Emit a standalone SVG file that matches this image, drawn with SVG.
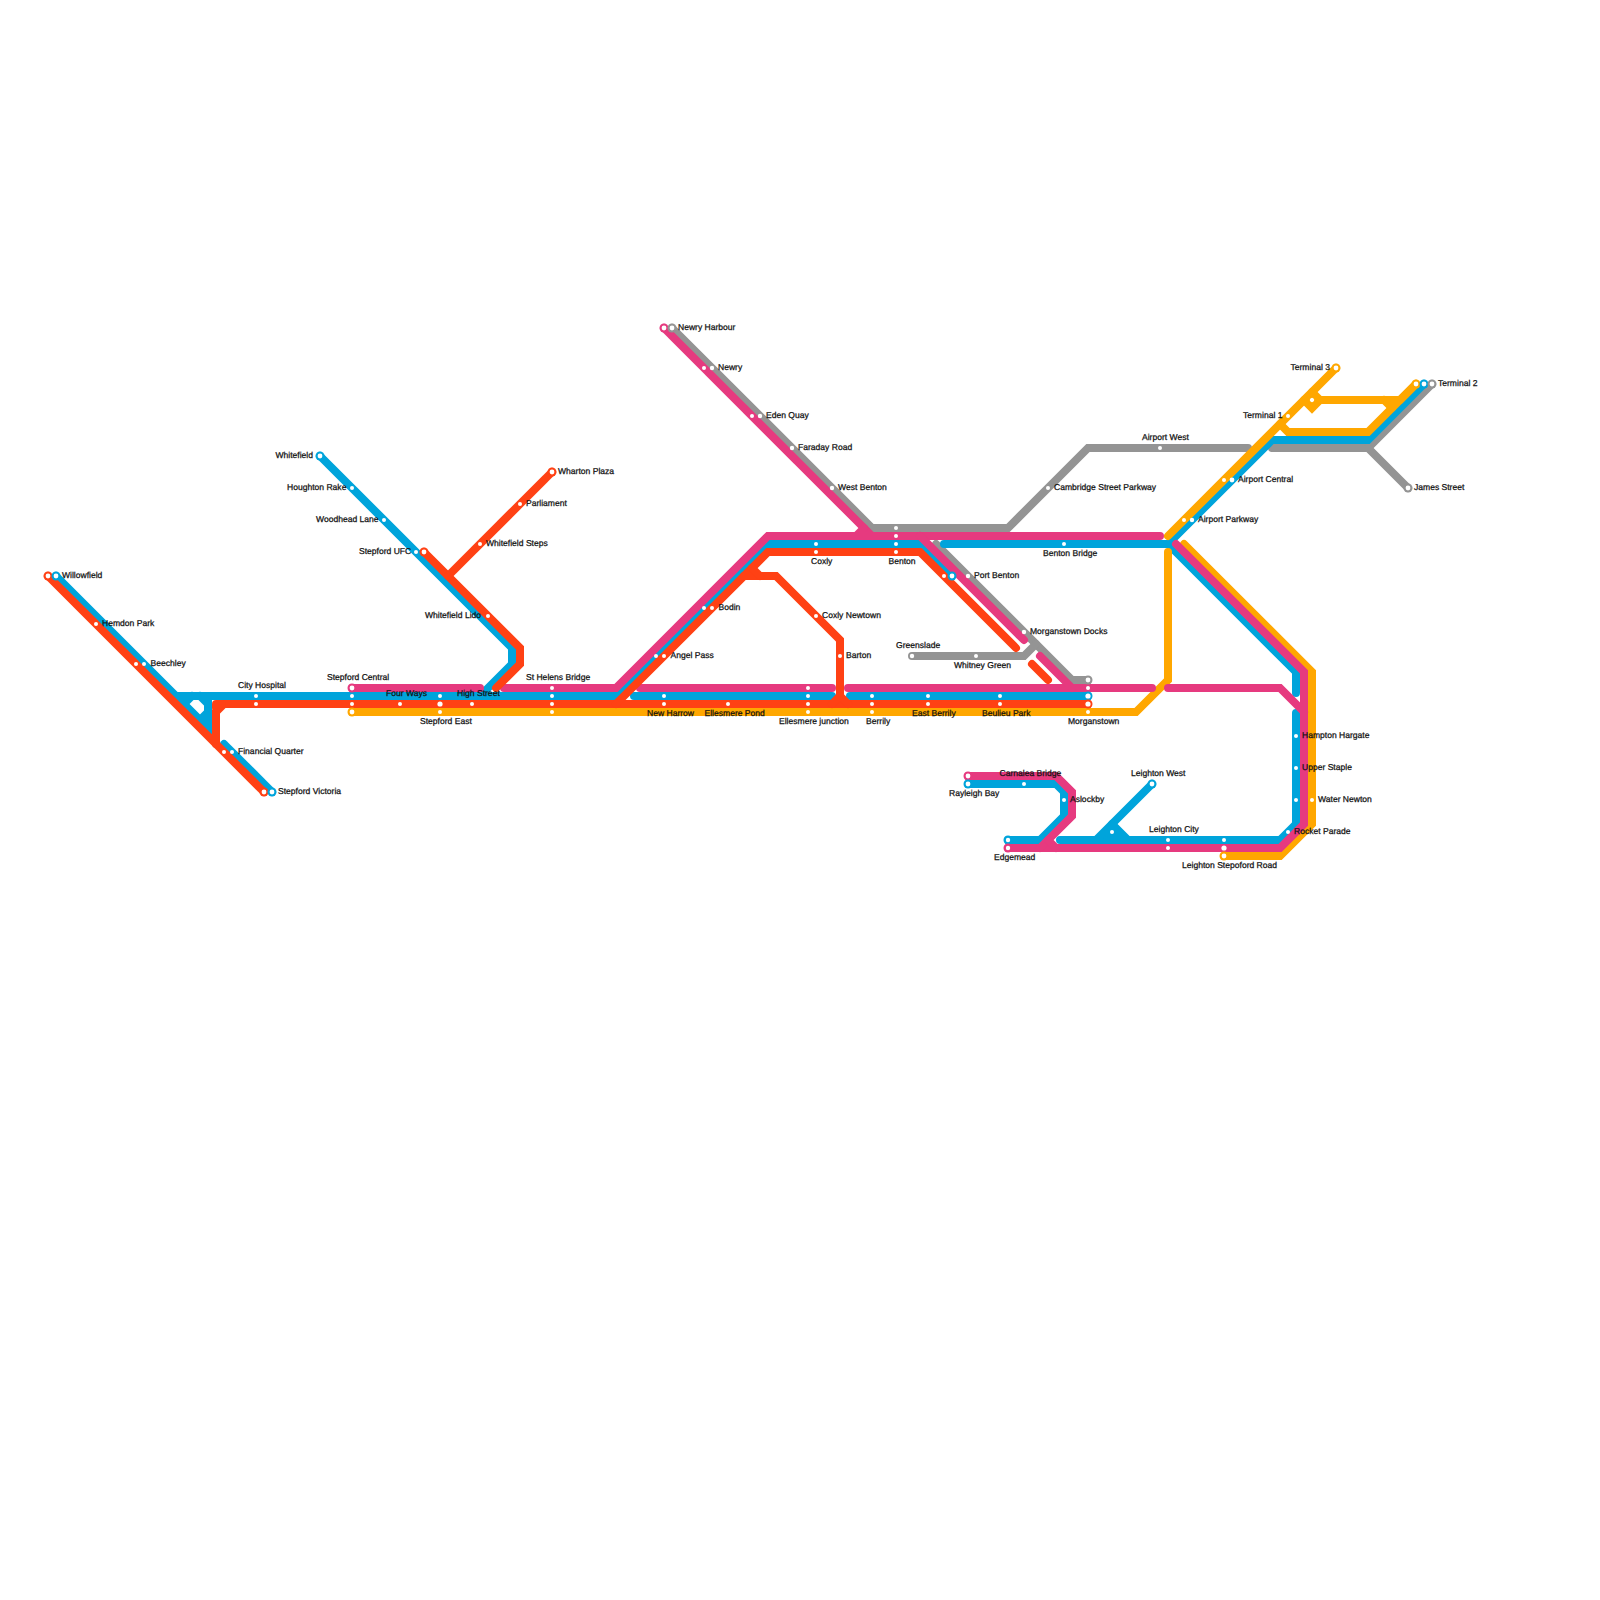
<svg xmlns="http://www.w3.org/2000/svg" width="1600" height="1600" viewBox="0 0 1600 1600">
<style>
.c path{fill:none;stroke-width:8;stroke-linecap:round;stroke-linejoin:miter}
.grey path{stroke:#949494}.blue path{stroke:#00a4db}.orange path{stroke:#ffa700}.pink path{stroke:#e63a7f}.red path{stroke:#ff4114}
.d{fill:#fff}
.rg{fill:#949494}.rb{fill:#00a4db}.ro{fill:#ffa700}.rp{fill:#e63a7f}.rr{fill:#ff4114}
text{font-family:"Liberation Sans",Arial,sans-serif;font-size:8.55px;fill:#111;stroke:#111;stroke-width:.25px;text-rendering:geometricPrecision}
</style>
<rect width="1600" height="1600" fill="#fff"/>
<g id="connectors" class="c">
<g class="grey">
<path d="M672 328L872 528H1008L1088 448H1248"/>
<path d="M1272 448H1368L1432 384"/>
<path d="M1368 448L1408 488"/>
<path d="M936 544L1072 680H1088"/>
<path d="M912 656H1024L1036 644"/>
</g>
<g class="blue">
<path d="M56 576L208 728V696"/>
<path d="M200 696L208 704"/>
<path d="M208 712L200 720"/>
<path d="M184 704L192 696"/>
<path d="M224 744L272 792"/>
<path d="M176 696H616L768 544H920L952 576"/>
<path d="M634 696H832"/>
<path d="M850 696H1088"/>
<path d="M320 456L512 648V664L480 696"/>
<path d="M944 544H1168L1296 672V693"/>
<path d="M1168 544L1272 440H1368L1424 384"/>
<path d="M1296 713V824L1280 840H1060"/>
<path d="M968 784H1056L1064 792V816L1040 840H1008"/>
<path d="M1152 784L1096 840"/>
<path d="M1112 824L1128 840"/>
<path d="M1108 833H1118"/>
</g>
<g class="orange">
<path d="M352 712H1136L1168 680V552"/>
<path d="M1168 536L1336 368"/>
<path d="M1184 544L1312 672V824L1280 856H1224"/>
<path d="M1304 400L1312 408L1320 400H1400L1416 384"/>
<path d="M1312 392L1320 400"/>
<path d="M1384 400L1392 408"/>
<path d="M1280 424L1288 432H1368L1416 384"/>
</g>
<g class="pink">
<path d="M664 328L872 536"/>
<path d="M856 536L864 528"/>
<path d="M352 688H480"/>
<path d="M504 688H616L768 536H1160"/>
<path d="M640 688H832"/>
<path d="M848 688H1152"/>
<path d="M1168 688H1280L1304 712"/>
<path d="M920 536L1024 640"/>
<path d="M1040 656L1072 688"/>
<path d="M1176 544L1304 672V824L1280 848H1008"/>
<path d="M968 776H1056L1072 792V816L1040 848"/>
<path d="M1048 840L1056 848"/>
</g>
<g class="red">
<path d="M48 576L264 792"/>
<path d="M216 744V712L224 704H1088"/>
<path d="M216 708V704H222" style="stroke-linejoin:round"/>
<path d="M424 552L520 648V664L496 688"/>
<path d="M552 472L448 576"/>
<path d="M616 704L768 552H920L1016 648"/>
<path d="M1032 664L1048 680"/>
<path d="M744 576H776L840 640V696"/>
<path d="M752 568L760 576"/>
<path d="M832 704L840 696L848 704"/>
</g>
</g>
<g id="stations">
<g id="willowfield"><circle class="rr" cx="48" cy="576" r="4.5"/><circle class="rb" cx="56" cy="576" r="4.5"/><circle class="d" cx="48" cy="576" r="2.4"/><circle class="d" cx="56" cy="576" r="2.4"/><text x="62" y="578">Willowfield</text></g>
<g id="hemdon-park"><circle class="d" cx="96" cy="624" r="2"/><text x="102" y="626">Hemdon Park</text></g>
<g id="beechley"><circle class="d" cx="136" cy="664" r="2"/><circle class="d" cx="144" cy="664" r="2"/><text x="150.5" y="666">Beechley</text></g>
<g id="city-hospital"><circle class="d" cx="256" cy="696" r="2"/><circle class="d" cx="256" cy="704" r="2"/><text x="238" y="688">City Hospital</text></g>
<g id="financial-quarter"><circle class="d" cx="224" cy="752" r="2"/><circle class="d" cx="232" cy="752" r="2"/><text x="238" y="754">Financial Quarter</text></g>
<g id="stepford-victoria"><circle class="rr" cx="264" cy="792" r="4.5"/><circle class="rb" cx="272" cy="792" r="4.5"/><circle class="d" cx="264" cy="792" r="2.4"/><circle class="d" cx="272" cy="792" r="2.4"/><text x="278" y="794">Stepford Victoria</text></g>
<g id="whitefield"><circle class="rb" cx="320" cy="456" r="4.5"/><circle class="d" cx="320" cy="456" r="2.4"/><text x="275.5" y="458">Whitefield</text></g>
<g id="houghton-rake"><circle class="d" cx="352" cy="488" r="2"/><text x="287" y="490">Houghton Rake</text></g>
<g id="woodhead-lane"><circle class="d" cx="384" cy="520" r="2"/><text x="316" y="522">Woodhead Lane</text></g>
<g id="stepford-ufc"><circle class="rr" cx="424" cy="552" r="4.5"/><circle class="d" cx="416" cy="552" r="2"/><circle class="d" cx="424" cy="552" r="2.4"/><text x="359" y="554">Stepford UFC</text></g>
<g id="whitefield-lido"><circle class="d" cx="488" cy="616" r="2"/><text x="425" y="618">Whitefield Lido</text></g>
<g id="wharton-plaza"><circle class="rr" cx="552" cy="472" r="4.5"/><circle class="d" cx="552" cy="472" r="2.4"/><text x="558" y="474">Wharton Plaza</text></g>
<g id="parliament"><circle class="d" cx="520" cy="504" r="2"/><text x="526" y="506">Parliament</text></g>
<g id="whitefield-steps"><circle class="d" cx="480" cy="544" r="2"/><text x="486" y="546">Whitefield Steps</text></g>
<g id="stepford-central"><circle class="rp" cx="352" cy="688" r="4.5"/><circle class="ro" cx="352" cy="712" r="4.5"/><circle class="d" cx="352" cy="688" r="2.4"/><circle class="d" cx="352" cy="696" r="2"/><circle class="d" cx="352" cy="704" r="2"/><circle class="d" cx="352" cy="712" r="2.4"/><text x="327" y="680">Stepford Central</text></g>
<g id="four-ways"><circle class="d" cx="400" cy="704" r="2"/><text x="386" y="696">Four Ways</text></g>
<g id="stepford-east"><circle class="d" cx="440" cy="696" r="2"/><circle class="d" cx="440" cy="704" r="2.6"/><circle class="d" cx="440" cy="712" r="2"/><text x="420" y="724">Stepford East</text></g>
<g id="high-street"><circle class="d" cx="472" cy="704" r="2"/><text x="457" y="696">High Street</text></g>
<g id="st-helens-bridge"><circle class="d" cx="552" cy="688" r="2"/><circle class="d" cx="552" cy="696" r="2"/><circle class="d" cx="552" cy="704" r="2"/><circle class="d" cx="552" cy="712" r="2"/><text x="526" y="680">St Helens Bridge</text></g>
<g id="angel-pass"><circle class="d" cx="656" cy="656" r="2"/><circle class="d" cx="664" cy="656" r="2"/><text x="670.5" y="658">Angel Pass</text></g>
<g id="bodin"><circle class="d" cx="704" cy="608" r="2"/><circle class="d" cx="712" cy="608" r="2"/><text x="718.5" y="610">Bodin</text></g>
<g id="new-harrow"><circle class="d" cx="664" cy="696" r="2"/><circle class="d" cx="664" cy="704" r="2"/><text x="647" y="716">New Harrow</text></g>
<g id="ellesmere-pond"><circle class="d" cx="728" cy="704" r="2"/><text x="704.5" y="716">Ellesmere Pond</text></g>
<g id="ellesmere-junction"><circle class="d" cx="808" cy="688" r="2"/><circle class="d" cx="808" cy="696" r="2"/><circle class="d" cx="808" cy="704" r="2"/><circle class="d" cx="808" cy="712" r="2"/><text x="779" y="724">Ellesmere junction</text></g>
<g id="berrily"><circle class="d" cx="872" cy="696" r="2"/><circle class="d" cx="872" cy="704" r="2"/><circle class="d" cx="872" cy="712" r="2"/><text x="866" y="724">Berrily</text></g>
<g id="east-berrily"><circle class="d" cx="928" cy="696" r="2"/><circle class="d" cx="928" cy="704" r="2"/><text x="912" y="716">East Berrily</text></g>
<g id="beulieu-park"><circle class="d" cx="1000" cy="696" r="2"/><circle class="d" cx="1000" cy="704" r="2"/><text x="982" y="716">Beulieu Park</text></g>
<g id="morganstown"><circle class="rg" cx="1088" cy="680" r="4.5"/><circle class="rb" cx="1088" cy="696" r="4.5"/><circle class="rr" cx="1088" cy="704" r="4.5"/><circle class="d" cx="1088" cy="680" r="2.4"/><circle class="d" cx="1088" cy="688" r="2"/><circle class="d" cx="1088" cy="696" r="2.6"/><circle class="d" cx="1088" cy="704" r="2.6"/><circle class="d" cx="1088" cy="712" r="2"/><text x="1068" y="724">Morganstown</text></g>
<g id="coxly"><circle class="d" cx="816" cy="544" r="2"/><circle class="d" cx="816" cy="552" r="2"/><text x="811" y="564">Coxly</text></g>
<g id="benton"><circle class="d" cx="896" cy="528" r="2"/><circle class="d" cx="896" cy="536" r="2"/><circle class="d" cx="896" cy="544" r="2"/><circle class="d" cx="896" cy="552" r="2"/><text x="888.5" y="564">Benton</text></g>
<g id="coxly-newtown"><circle class="d" cx="816" cy="616" r="2"/><text x="822" y="618">Coxly Newtown</text></g>
<g id="barton"><circle class="d" cx="840" cy="656" r="2"/><text x="846" y="658">Barton</text></g>
<g id="greenslade"><circle class="d" cx="912" cy="656" r="2.2"/><text x="896" y="648">Greenslade</text></g>
<g id="whitney-green"><circle class="d" cx="976" cy="656" r="2"/><text x="954" y="668">Whitney Green</text></g>
<g id="port-benton"><circle class="rb" cx="952" cy="576" r="4.5"/><circle class="d" cx="944" cy="576" r="2"/><circle class="d" cx="952" cy="576" r="2.4"/><circle class="d" cx="968" cy="576" r="2.2"/><text x="974" y="578">Port Benton</text></g>
<g id="morganstown-docks"><circle class="d" cx="1024" cy="632" r="2.2"/><text x="1030" y="634">Morganstown Docks</text></g>
<g id="benton-bridge"><circle class="d" cx="1064" cy="544" r="2"/><text x="1043" y="556">Benton Bridge</text></g>
<g id="cambridge-street-parkway"><circle class="d" cx="1048" cy="488" r="2"/><text x="1054" y="490">Cambridge Street Parkway</text></g>
<g id="airport-west"><circle class="d" cx="1160" cy="448" r="2"/><text x="1142" y="440">Airport West</text></g>
<g id="airport-parkway"><circle class="d" cx="1184" cy="520" r="2"/><circle class="d" cx="1192" cy="520" r="2.2"/><text x="1198" y="522">Airport Parkway</text></g>
<g id="airport-central"><circle class="d" cx="1224" cy="480" r="2"/><circle class="d" cx="1232" cy="480" r="2.4"/><text x="1238" y="482">Airport Central</text></g>
<g id="terminal-1"><circle class="d" cx="1288" cy="416" r="2"/><text x="1243" y="418">Terminal 1</text></g>
<g id="terminal-3"><circle class="ro" cx="1336" cy="368" r="4.5"/><circle class="d" cx="1336" cy="368" r="2.4"/><text x="1290.5" y="370">Terminal 3</text></g>
<g id="terminal-4"><circle class="d" cx="1312" cy="400" r="2"/></g>
<g id="terminal-2"><circle class="ro" cx="1416" cy="384" r="4.5"/><circle class="rb" cx="1424" cy="384" r="4.5"/><circle class="rg" cx="1432" cy="384" r="4.5"/><circle class="d" cx="1416" cy="384" r="2.4"/><circle class="d" cx="1424" cy="384" r="2.4"/><circle class="d" cx="1432" cy="384" r="2.4"/><text x="1438" y="386">Terminal 2</text></g>
<g id="james-street"><circle class="rg" cx="1408" cy="488" r="4.5"/><circle class="d" cx="1408" cy="488" r="2.4"/><text x="1414" y="490">James Street</text></g>
<g id="newry-harbour"><circle class="rp" cx="664" cy="328" r="4.5"/><circle class="rg" cx="672" cy="328" r="4.5"/><circle class="d" cx="664" cy="328" r="2.4"/><circle class="d" cx="672" cy="328" r="2.4"/><text x="678" y="330">Newry Harbour</text></g>
<g id="newry"><circle class="d" cx="704" cy="368" r="2"/><circle class="d" cx="712" cy="368" r="2.2"/><text x="718" y="370">Newry</text></g>
<g id="eden-quay"><circle class="d" cx="752" cy="416" r="2"/><circle class="d" cx="760" cy="416" r="2.2"/><text x="766" y="418">Eden Quay</text></g>
<g id="faraday-road"><circle class="d" cx="792" cy="448" r="2.2"/><text x="798" y="450">Faraday Road</text></g>
<g id="west-benton"><circle class="d" cx="832" cy="488" r="2.2"/><text x="838" y="490">West Benton</text></g>
<g id="carnalea-bridge"><circle class="rp" cx="968" cy="776" r="4.5"/><circle class="d" cx="968" cy="776" r="2.4"/><circle class="d" cx="1024" cy="784" r="2"/><text x="999.5" y="776">Carnalea Bridge</text></g>
<g id="rayleigh-bay"><circle class="rb" cx="968" cy="784" r="4.5"/><circle class="d" cx="968" cy="784" r="2.4"/><text x="949" y="796">Rayleigh Bay</text></g>
<g id="aslockby"><circle class="d" cx="1064" cy="800" r="2"/><text x="1070" y="802">Aslockby</text></g>
<g id="edgemead"><circle class="rb" cx="1008" cy="840" r="4.5"/><circle class="rp" cx="1008" cy="848" r="4.5"/><circle class="d" cx="1008" cy="840" r="2.2"/><circle class="d" cx="1008" cy="848" r="2.2"/><text x="994" y="860">Edgemead</text></g>
<g id="leighton-west"><circle class="rb" cx="1152" cy="784" r="4.5"/><circle class="d" cx="1152" cy="784" r="2.4"/><text x="1131" y="776">Leighton West</text></g>
<g id="leighton-junction"><circle class="d" cx="1112" cy="832" r="2"/></g>
<g id="leighton-city"><circle class="d" cx="1168" cy="840" r="2"/><circle class="d" cx="1168" cy="848" r="2"/><text x="1149" y="832">Leighton City</text></g>
<g id="leighton-stepoford-road"><circle class="ro" cx="1224" cy="856" r="4.5"/><circle class="d" cx="1224" cy="840" r="2"/><circle class="d" cx="1224" cy="848" r="2.6"/><circle class="d" cx="1224" cy="856" r="2.4"/><text x="1182" y="868">Leighton Stepoford Road</text></g>
<g id="rocket-parade"><circle class="d" cx="1288" cy="832" r="2"/><text x="1294" y="834">Rocket Parade</text></g>
<g id="water-newton"><circle class="d" cx="1296" cy="800" r="2"/><circle class="d" cx="1312" cy="800" r="2"/><text x="1318" y="802">Water Newton</text></g>
<g id="upper-staple"><circle class="d" cx="1296" cy="768" r="2"/><text x="1302" y="770">Upper Staple</text></g>
<g id="hampton-hargate"><circle class="d" cx="1296" cy="736" r="2"/><text x="1302" y="738">Hampton Hargate</text></g>
</g>
</svg>
